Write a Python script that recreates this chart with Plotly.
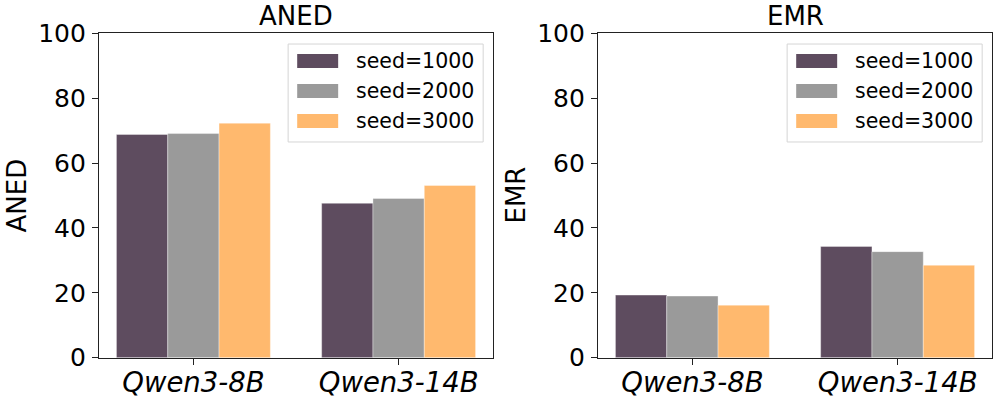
"""
Grouped bar chart: ANED and EMR per model for three random seeds
"""

import plotly.graph_objects as go
from plotly.subplots import make_subplots

# ============================================================================
# DATA
# ============================================================================

models = ['Qwen3-8B', 'Qwen3-14B']
seeds = ['seed=1000', 'seed=2000', 'seed=3000']

aned_seed1000 = [68.8, 47.6]
aned_seed2000 = [69.1, 49.1]
aned_seed3000 = [72.3, 53.1]

emr_seed1000 = [19.3, 34.3]
emr_seed2000 = [19.0, 32.7]
emr_seed3000 = [16.2, 28.5]

y_ticks = [0, 20, 40, 60, 80, 100]

colors = ['#5e4c5f', '#9a9a9a', '#ffb96e']

panels = [
    ('ANED', [aned_seed1000, aned_seed2000, aned_seed3000]),
    ('EMR', [emr_seed1000, emr_seed2000, emr_seed3000]),
]

FONT = 'DejaVu Sans, Arial, sans-serif'

# ============================================================================
# FIGURE
# ============================================================================

fig = make_subplots(rows=1, cols=2)

for col, (name, series) in enumerate(panels, start=1):
    for seed, vals, color in zip(seeds, series, colors):
        fig.add_trace(
            go.Bar(
                x=models, y=vals, name=seed,
                marker=dict(color=color, line=dict(color='rgba(255,255,255,0.6)', width=0.6)),
                showlegend=False,
            ),
            row=1, col=col,
        )

fig.update_layout(
    template='none',
    width=997, height=399,
    margin=dict(l=0, r=0, t=0, b=0, autoexpand=False),
    plot_bgcolor='white', paper_bgcolor='white',
    barmode='group', bargap=0.25, bargroupgap=0,
    font=dict(family=FONT, color='black'),
    xaxis=dict(domain=[0.0993, 0.4945]),
    xaxis2=dict(domain=[0.5998, 0.995]),
    yaxis=dict(domain=[0.1035, 0.9165]),
    yaxis2=dict(domain=[0.1035, 0.9165]),
)

fig.update_xaxes(
    automargin=False,
    range=[-0.46, 1.46],
    showline=True, linecolor='#222222', linewidth=1.2, mirror=True,
    ticks='outside', ticklen=6, tickcolor='#222222', tickwidth=1.2,
    tickfont=dict(size=27.5, family=FONT, style='italic', color='black'),
    ticklabelstandoff=-6,
    showgrid=False, zeroline=False,
)
fig.update_yaxes(
    automargin=False,
    range=[0, 100], tickvals=y_ticks,
    showline=True, linecolor='#222222', linewidth=1.2, mirror=True,
    ticks='outside', ticklen=6, tickcolor='#222222', tickwidth=1.2,
    tickfont=dict(size=25, family=FONT, color='black'),
    ticklabelstandoff=1,
    showgrid=False, zeroline=False,
)

# ============================================================================
# TITLES AND LEGENDS (matplotlib style)
# ============================================================================

for i, (name, _) in enumerate(panels):
    sfx = '' if i == 0 else str(i + 1)
    xd, yd = f'x{sfx} domain', f'y{sfx} domain'

    # panel title
    fig.add_annotation(
        text=name, xref=xd, yref=yd, x=0.5, y=1, xanchor='center', yanchor='bottom', yshift=0,
        showarrow=False, font=dict(size=26, family=FONT, color='black'),
    )
    # y-axis title
    fig.add_annotation(
        text=name, xref='paper', yref=yd, x=(17 + i * 499) / 997, y=0.5,
        xanchor='center', yanchor='middle',
        textangle=-90, showarrow=False, font=dict(size=26, family=FONT, color='black'),
    )

    # legend frame
    fig.add_shape(
        type='rect', xref=xd, yref=yd, x0=0.48, x1=0.975, y0=0.665, y1=0.967,
        fillcolor='rgba(255,255,255,0.8)', line=dict(color='#d5d5d5', width=1), layer='above',
    )
    for k, (seed, color) in enumerate(zip(seeds, colors)):
        yc = 0.915 - k * 0.0925
        fig.add_shape(
            type='rect', xref=xd, yref=yd, x0=0.503, x1=0.607, y0=yc - 0.0216, y1=yc + 0.0216,
            fillcolor=color, line=dict(width=0), layer='above',
        )
        fig.add_annotation(
            text=seed, xref=xd, yref=yd, x=0.648, y=yc, xanchor='left', yanchor='middle',
            showarrow=False, font=dict(size=20.5, family=FONT, color='black'),
        )

# page has a default body margin; drop it so the figure sits at the top-left corner
fig.write_html(
    'out.html',
    config={'displayModeBar': False},
    post_script="document.body.style.margin='0';",
)
